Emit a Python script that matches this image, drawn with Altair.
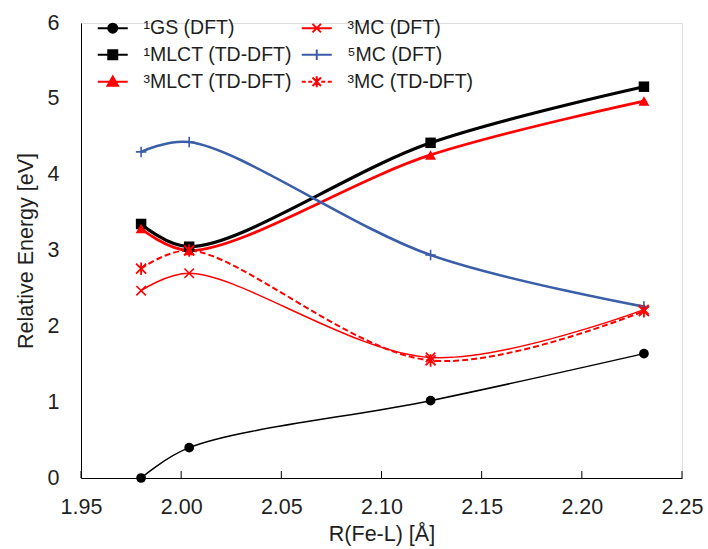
import altair as alt
import pandas as pd

# ---- data ----
r_fe_l = [1.980, 2.004, 2.1245, 2.231]
series_names = ["¹GS (DFT)", "¹MLCT (TD-DFT)", "³MLCT (TD-DFT)",
                "³MC (DFT)", "⁵MC (DFT)", "³MC (TD-DFT)"]
gs_dft = [0.00, 0.40, 1.02, 1.64]
mlct1_td = [3.35, 3.05, 4.42, 5.16]
mlct3_td = [3.29, 3.00, 4.26, 4.97]
mc3_dft = [2.47, 2.70, 1.59, 2.22]
mc5_dft = [4.30, 4.43, 2.94, 2.26]
mc3_td = [2.76, 3.00, 1.55, 2.20]
x_ticks = [1.95, 2.00, 2.05, 2.10, 2.15, 2.20, 2.25]
y_ticks = [0, 1, 2, 3, 4, 5, 6]

values = [gs_dft, mlct1_td, mlct3_td, mc3_dft, mc5_dft, mc3_td]

rows = []
for name, ys in zip(series_names, values):
    for x, y in zip(r_fe_l, ys):
        rows.append({"series": name, "r": x, "e": y})
df = pd.DataFrame(rows)

# ---- styles ----
BLUE = "#3A5EA8"
colors = ["black", "black", "red", "red", BLUE, "red"]
widths = [1.5, 3.2, 2.8, 1.5, 2.6, 2.0]
dashes = [None, None, None, None, None, [6, 3]]
X_PATH = "M-1,-1L1,1M-1,1L1,-1"
PLUS_PATH = "M-1,0L1,0M0,-1L0,1"
AST_PATH = "M-1,-1L1,1M-1,1L1,-1M0,-1.25L0,1.25"
markers = [("circle", 95, True, 1),
           ("square", 110, True, 1),
           ("triangle-up", 120, True, 1),
           (X_PATH, 90, False, 1.6),
           (PLUS_PATH, 110, False, 1.6),
           (AST_PATH, 100, False, 1.8)]

legend_paths = [
    "M-3,0L3,0M0.9,0A0.9,0.9 0 1,1 -0.9,0A0.9,0.9 0 1,1 0.9,0Z",
    "M-3,0L3,0M-0.9,-0.9H0.9V0.9H-0.9Z",
    "M-3,0L3,0M0,-1.05L1.05,0.8H-1.05Z",
    "M-3,0L3,0M-0.85,-0.85L0.85,0.85M-0.85,0.85L0.85,-0.85",
    "M-3,0L3,0M0,-1.05L0,1.05",
    "M-3,0L-2.2,0M-1.7,0L-0.9,0M0.9,0L1.7,0M2.2,0L3,0"
    "M-0.85,-0.85L0.85,0.85M-0.85,0.85L0.85,-0.85M0,-1.1L0,1.1",
]

FONT = "Liberation Sans"
TXT = "#1f1f1f"

x_enc = alt.X("r:Q",
              scale=alt.Scale(domain=[1.95, 2.25], nice=False, zero=False),
              axis=alt.Axis(title="R(Fe-L) [Å]", values=x_ticks, format=".2f",
                            ticks=False, grid=False, domainColor="black",
                            labelFontSize=21.5, titleFontSize=21.5, labelFont=FONT,
                            titleFont=FONT, labelColor=TXT, titleColor=TXT,
                            titleFontWeight="normal", labelPadding=18,
                            titlePadding=6, labelFlush=False))
y_enc = alt.Y("e:Q",
              scale=alt.Scale(domain=[0, 6], nice=False, zero=False),
              axis=alt.Axis(title="Relative Energy [eV]", values=y_ticks,
                            ticks=False, grid=False, domainColor="black",
                            labelFontSize=21.5, titleFontSize=21.5, labelFont=FONT,
                            titleFont=FONT, labelColor=TXT, titleColor=TXT,
                            titleFontWeight="normal", labelPadding=22,
                            titlePadding=10, labelFlush=False))

layers = []
for i, name in enumerate(series_names):
    sub = df[df["series"] == name]
    kw = dict(interpolate="catmull-rom", color=colors[i], strokeWidth=widths[i])
    if dashes[i]:
        kw["strokeDash"] = dashes[i]
    layers.append(alt.Chart(sub).mark_line(**kw).encode(x=x_enc, y=y_enc))

for i, name in enumerate(series_names):
    sub = df[df["series"] == name]
    shape, size, filled, sw = markers[i]
    layers.append(
        alt.Chart(sub).mark_point(shape=shape, size=size, filled=filled,
                                  color=colors[i], strokeWidth=sw, opacity=1)
        .encode(x=x_enc, y=y_enc))

# inward ticks on the x axis
tick_df = pd.DataFrame({"r": x_ticks})
layers.append(alt.Chart(tick_df).mark_rule(color="black", strokeWidth=1)
              .encode(x=x_enc, y=alt.value(455), y2=alt.value(448)))

# legend-only layer
leg = alt.Legend(orient="none", legendX=22, legendY=-5, columns=2, title=None,
                 labelFont=FONT, labelFontSize=19.5, labelColor=TXT,
                 symbolSize=100, symbolStrokeWidth=2, labelOffset=21,
                 columnPadding=5, rowPadding=6, symbolOpacity=1)
leg_df = pd.DataFrame({"series": series_names})
layers.append(
    alt.Chart(leg_df).transform_filter("false")
    .mark_point(opacity=1, size=100, strokeWidth=2)
    .encode(
        shape=alt.Shape("series:N", scale=alt.Scale(domain=series_names, range=legend_paths),
                        legend=leg, sort=series_names),
        stroke=alt.Stroke("series:N", scale=alt.Scale(domain=series_names, range=colors),
                          legend=leg, sort=series_names),
        fill=alt.Fill("series:N", scale=alt.Scale(domain=series_names, range=colors),
                      legend=leg, sort=series_names),
    ))

chart = alt.layer(*layers).properties(
    width=601, height=455,
    autosize=alt.AutoSizeParams(type="none"),
    padding={"left": 81, "top": 23, "right": 26, "bottom": 71},
).configure_view(stroke=None).configure(background="white")

chart.save("out.html", embed_options={"renderer": "svg", "actions": False})
